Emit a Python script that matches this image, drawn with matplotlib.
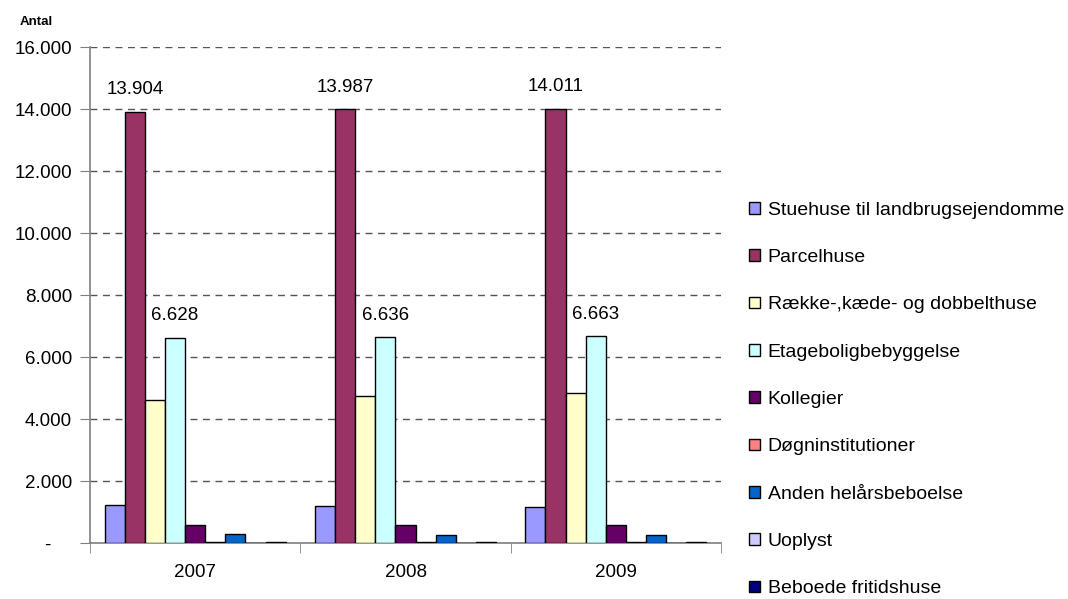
import matplotlib
matplotlib.use("Agg")
import matplotlib.pyplot as plt
import numpy as np

plt.rcParams['font.family'] = ['Liberation Sans', 'DejaVu Sans']

# Data
years = ['2007', '2008', '2009']
stuehuse = [1210, 1205, 1170]
parcelhuse = [13904, 13987, 14011]
raekke = [4625, 4730, 4825]
etage = [6628, 6636, 6663]
kollegier = [580, 580, 580]
doegn = [45, 45, 45]
anden = [275, 245, 245]
uoplyst = [0, 0, 0]
fritidshuse = [40, 40, 40]

series_names = ['Stuehuse til landbrugsejendomme', 'Parcelhuse',
                'Række-,kæde- og dobbelthuse', 'Etageboligbebyggelse',
                'Kollegier', 'Døgninstitutioner', 'Anden helårsbeboelse',
                'Uoplyst', 'Beboede fritidshuse']
series_values = [stuehuse, parcelhuse, raekke, etage, kollegier,
                 doegn, anden, uoplyst, fritidshuse]
colors = ['#9999FF', '#993366', '#FFFFCC', '#CCFFFF', '#660066',
          '#FF8080', '#0066CC', '#CCCCFF', '#000080']
labelled = ['Parcelhuse', 'Etageboligbebyggelse']

fig = plt.figure(figsize=(10.68, 5.99), dpi=100)
ax = fig.add_axes([90 / 1068, 56 / 599, 631 / 1068, 496 / 599])

n = len(series_names)
bar_w = 0.0957
x = np.arange(len(years))
for i, (name, vals, col) in enumerate(zip(series_names, series_values, colors)):
    pos = x + (i - (n - 1) / 2) * bar_w
    bars = ax.bar(pos, vals, width=bar_w, color=col, edgecolor='black',
                  linewidth=1.0, label=name, zorder=3)
    if name in labelled:
        for b, v in zip(bars, vals):
            ax.annotate(f'{v:,}'.replace(',', '.'),
                        (b.get_x() + b.get_width() / 2, v),
                        xytext=(0, 16), textcoords='offset points',
                        ha='center', va='center', fontsize=13.5)

ax.set_xlim(-0.5, len(years) - 0.5)
ax.set_ylim(0, 16000)

yt = np.arange(0, 16001, 2000)
ax.set_yticks(yt)
ax.set_yticklabels(['-    '] + [f'{v:,}'.replace(',', '.') for v in yt[1:]])
ax.yaxis.grid(True, linestyle=(0, (5, 4)), color='#555555', linewidth=1.0)
ax.set_axisbelow(True)

ax.set_xticks(x)
ax.set_xticklabels(years)
ax.set_xticks(np.arange(-0.5, len(years), 1), minor=True)
ax.tick_params(axis='x', which='major', length=0, pad=15, labelsize=13.5)
ax.tick_params(axis='x', which='minor', length=7, color='#808080', direction='out')
ax.tick_params(axis='y', length=7, color='#808080', direction='out', labelsize=13.5, pad=6)

for s in ['top', 'right']:
    ax.spines[s].set_visible(False)
for s in ['left', 'bottom']:
    ax.spines[s].set_color('#808080')
    ax.spines[s].set_linewidth(1.2)

fig.text(20 / 1068, 1 - 22 / 599, 'Antal', fontsize=9.5, fontweight='bold',
         ha='left', va='center')

fig.legend(loc='center left', bbox_to_anchor=(749 / 1068, 0.333), frameon=False,
           fontsize=14, handlelength=0.57, handleheight=0.57,
           handletextpad=0.4, labelspacing=1.56, borderpad=0, borderaxespad=0)

fig.savefig('out.png', dpi=100)
